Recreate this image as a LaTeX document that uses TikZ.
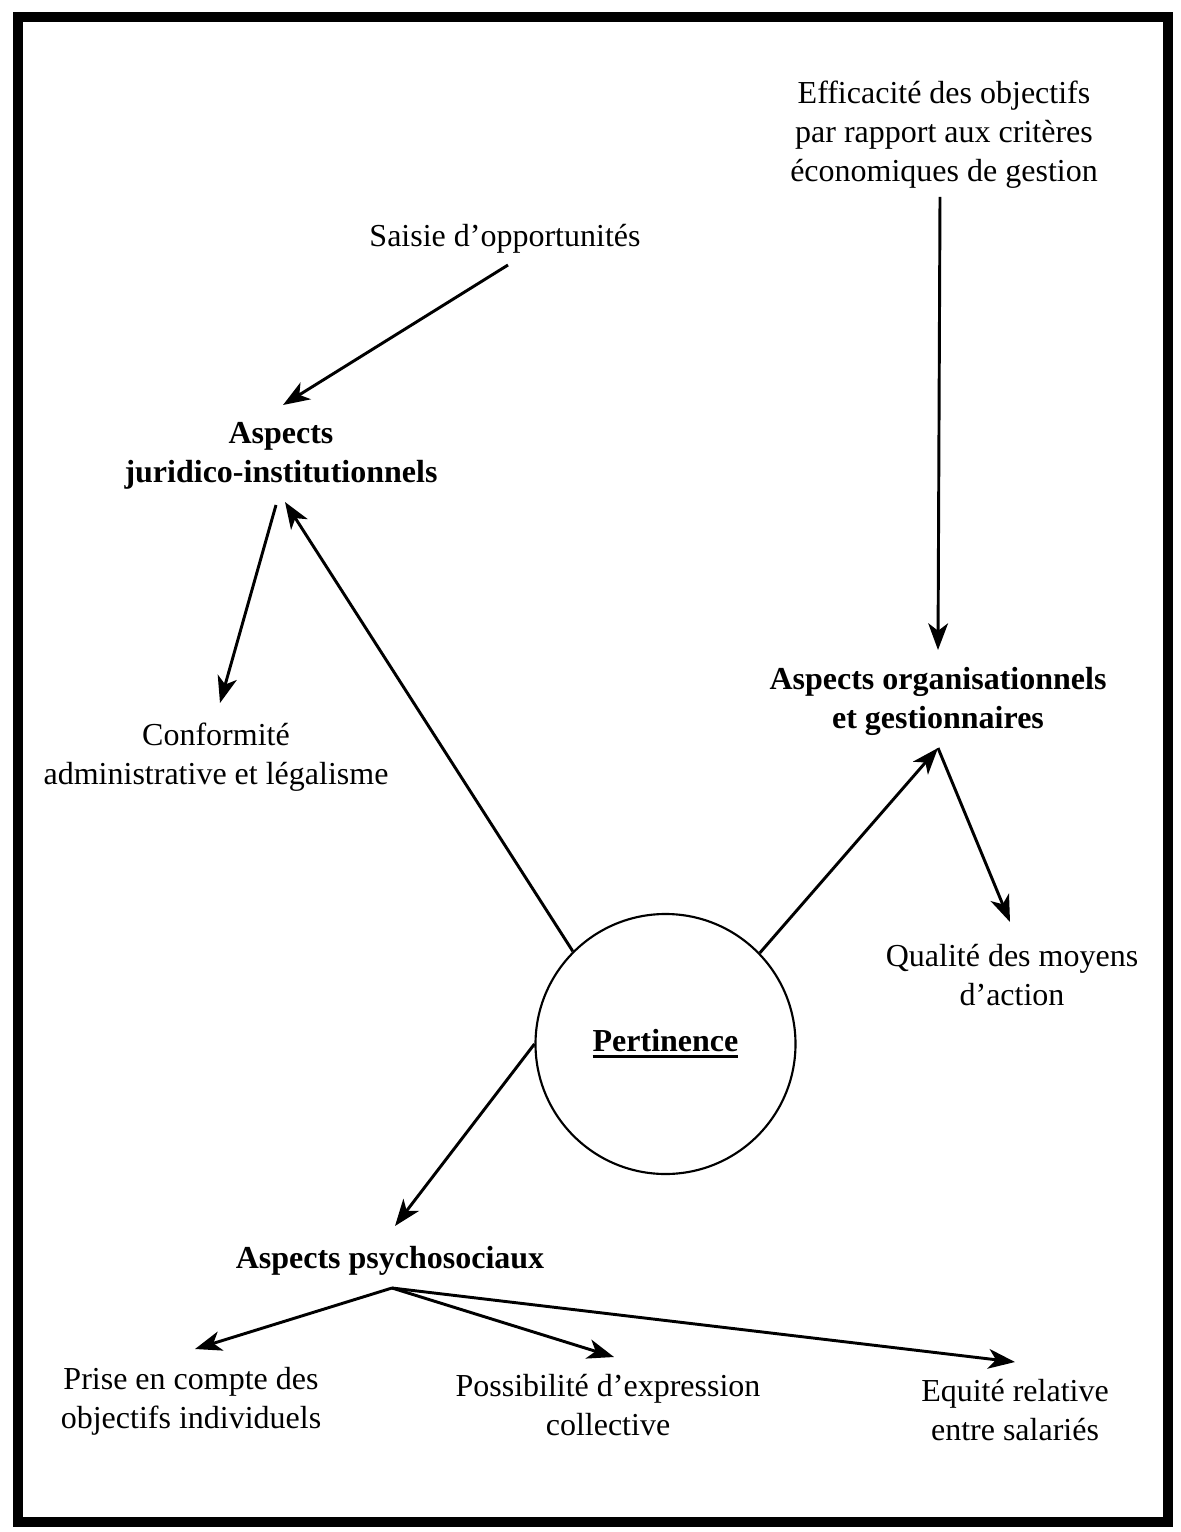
\documentclass[tikz,border=0pt]{standalone}
\usepackage{fontspec}
\setmainfont{Liberation Serif}
\usetikzlibrary{arrows.meta}
% heavier underline for the central label
\newcommand\heavyul[1]{\leavevmode\vtop{\hbox{#1}\kern1.2pt\hrule height 1.1pt}}
\begin{document}
\begin{tikzpicture}[x=0.375pt,y=-0.375pt,
  txt/.style={align=center,inner sep=0pt,font=\fontsize{12}{14.6}\selectfont},
  head/.style={txt,font=\fontsize{12}{14.6}\selectfont\bfseries},
  arr/.style={line width=1.1pt,-{Stealth[length=10pt,width=7.4pt,inset=2.8pt]}}]
\useasboundingbox (0,0) rectangle (1180,1532);
% outer frame
\draw[line width=3.4pt] (18,17) rectangle (1168,1522);

% text nodes
\node[txt]  (eff)  at (944,134.5) {Efficacité des objectifs\\par rapport aux critères\\économiques de gestion};
\node[txt]  (sai)  at (505,239) {Saisie d’opportunités};
\node[head] (jur)  at (281,456) {Aspects\\juridico-institutionnels};
\node[txt]  (conf) at (216,757) {Conformité\\administrative et légalisme};
\node[head] (org)  at (938,701) {Aspects organisationnels\\et gestionnaires};
\node[txt]  (qual) at (1012,975) {Qualité des moyens\\d’action};
\node[draw,circle,line width=0.8pt,minimum size=97.5pt,inner sep=0pt,
      font=\fontsize{12}{14}\selectfont\bfseries] (pert) at (665.5,1044) {\raisebox{-2.2pt}{\heavyul{Pertinence}}};
\node[head] (psy)  at (390,1261) {Aspects psychosociaux};
\node[txt]  (pri)  at (191,1401) {Prise en compte des\\objectifs individuels};
\node[txt]  (pos)  at (608,1405) {Possibilité d’expression\\collective};
\node[txt]  (equ)  at (1015,1410) {Equité relative\\entre salariés};

% connector end points
\coordinate (saiOut)  at (508,265);
\coordinate (jurIn)   at (283,405);
\coordinate (jurLow)  at (285,502);
\coordinate (jurOut)  at (276,505);
\coordinate (confIn)  at (220,703);
\coordinate (effOut)  at (940,197);
\coordinate (orgIn)   at (938,650);
\coordinate (orgLow)  at (938,748);
\coordinate (qualIn)  at (1010,922);
\coordinate (psyIn)   at (395,1226);
\coordinate (psyOut)  at (392,1288);
\coordinate (priIn)   at (195,1349);
\coordinate (posIn)   at (614,1357);
\coordinate (equIn)   at (1015,1362);

% connectors
\draw[arr] (saiOut) -- (jurIn);
\draw[arr] (pert.135) -- (jurLow);
\draw[arr] (jurOut) -- (confIn);
\draw[arr] (effOut) -- (orgIn);
\draw[arr] (pert.44) -- (orgLow);
\draw[arr] (orgLow) -- (qualIn);
\draw[arr] (pert.180) -- (psyIn);
\draw[arr] (psyOut) -- (priIn);
\draw[arr] (psyOut) -- (posIn);
\draw[arr] (psyOut) -- (equIn);
\end{tikzpicture}
\end{document}
